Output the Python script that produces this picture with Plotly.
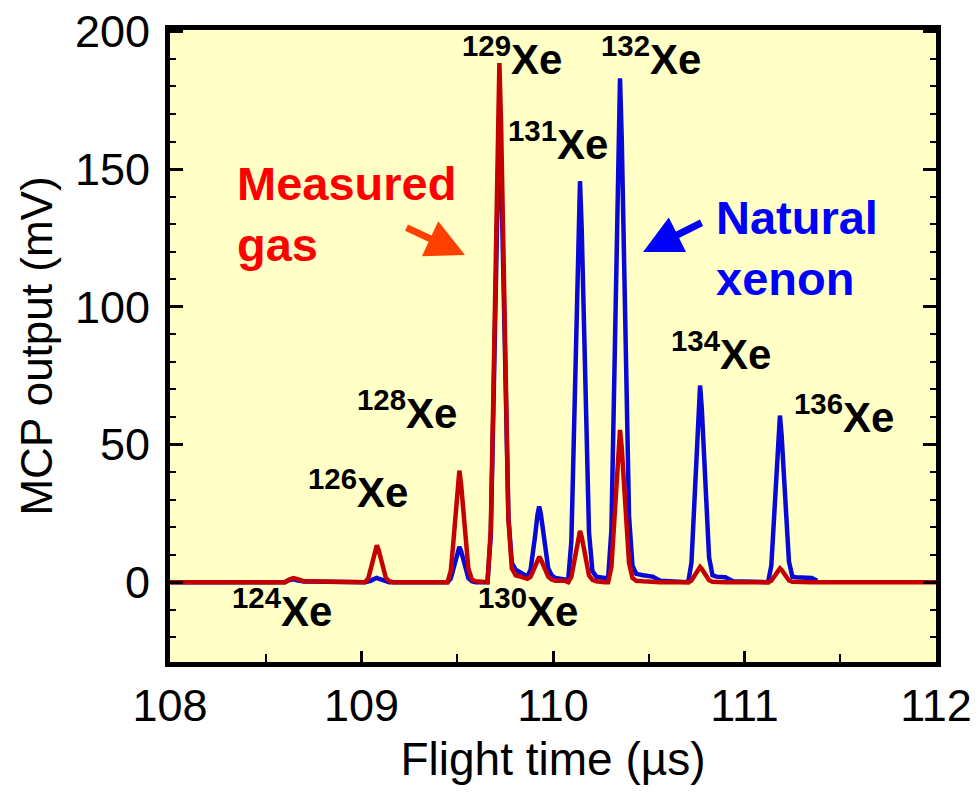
import plotly.graph_objects as go

# ---- data ----
flight_time = [
    108.00, 108.60, 108.625, 108.645, 108.67, 108.70,
    109.018, 109.035, 109.048, 109.059, 109.071, 109.08, 109.089, 109.103, 109.114, 109.127, 109.145, 109.165,
    109.449, 109.466, 109.479, 109.49, 109.502, 109.511, 109.52, 109.534, 109.545, 109.558, 109.576, 109.596,
    109.658, 109.675, 109.688, 109.699, 109.711, 109.72, 109.729, 109.743, 109.754, 109.767, 109.785, 109.805,
    109.83, 109.866, 109.883, 109.896, 109.907, 109.919, 109.928, 109.937, 109.951, 109.962, 109.975, 109.993,
    110.013, 110.06, 110.079, 110.096, 110.109, 110.12, 110.132, 110.141, 110.15, 110.164, 110.175, 110.188,
    110.206, 110.226, 110.27, 110.288, 110.305, 110.318, 110.329, 110.341, 110.35, 110.359, 110.373, 110.384,
    110.397, 110.415, 110.435, 110.47, 110.52, 110.56, 110.70, 110.706, 110.723, 110.736, 110.747, 110.759,
    110.768, 110.777, 110.791, 110.802, 110.815, 110.833, 110.853, 110.90, 110.94, 111.12, 111.123, 111.14,
    111.153, 111.164, 111.176, 111.185, 111.194, 111.208, 111.219, 111.232, 111.25, 111.27, 111.35, 111.38,
    112.00,
]

natural_xenon = [
    0, 0, 0.8, 1.0, 0.6, 0.2,
    0, 0.2, 0.5, 0.9, 1.3, 1.5, 1.3, 0.9, 0.5, 0.2, 0, 0,
    0, 1.3, 4.5, 7.7, 11.3, 12.8, 11.3, 7.7, 4.5, 1.5, 0.3, 0,
    0, 17, 60, 103, 151, 172, 151, 103, 62, 24, 7, 4.5,
    3.5, 2, 4.5, 10.5, 17, 24.5, 27.5, 24.5, 17, 10.5, 5, 2.5,
    1.5, 1, 0.5, 15, 51, 87, 128, 145.6, 128, 87, 51, 18,
    4, 2, 1.5, 1.5, 19, 64, 110, 161, 183, 161, 110, 64,
    24, 6, 3, 2.5, 2, 0.5, 0, 0, 7, 25, 43, 63,
    71.4, 63, 43, 25, 9, 2.5, 2, 1.8, 0.3, 0, 0, 6,
    21, 36, 53, 60.5, 53, 36, 21, 7.5, 2, 1.8, 1.5, 0.5,
    None,
]

measured_gas = [
    0, 0, 1.0, 1.5, 1.0, 0.3,
    0, 1.3, 4.7, 8.0, 11.8, 13.4, 11.8, 8.0, 4.7, 1.6, 0.3, 0,
    0, 4, 14, 24, 35.6, 40.5, 35.6, 24, 14, 5, 1, 0.3,
    0, 19, 66, 113, 166, 188.5, 166, 113, 66, 23, 5, 2.5,
    2, 1.2, 2, 4, 6, 8.2, 9.2, 8.2, 6, 4, 2, 1,
    0.5, 0.5, 0, 2, 6.5, 11, 16.4, 18.6, 16.4, 11, 6.5, 2.5,
    0.8, 0.3, 0, 0, 5.5, 19, 33, 48.7, 55.3, 48.7, 33, 19,
    7, 1.5, 0.5, 0.3, 0, 0, 0, 0, 0.6, 1.9, 3.3, 4.8,
    5.5, 4.8, 3.3, 1.9, 0.7, 0.1, 0, 0, 0, 0, 0, 0.5,
    1.7, 3, 4.4, 5, 4.4, 3, 1.7, 0.6, 0.1, 0, 0, 0,
    0,
]

isotope_labels = ["124", "126", "128", "129", "130", "131", "132", "134", "136"]
x_ticks = [108, 109, 110, 111, 112]
y_ticks = [0, 50, 100, 150, 200]

# ---- layout geometry (page pixels; body margin removed below) ----
W, H = 978, 799
L, R, T, B = 170, 936, 30, 662          # plot area on the page
XR = [108, 112]
YR = [-29, 200.5]


def px(xp, yp):
    """page pixel -> data coordinates"""
    xd = XR[0] + (xp - L) / (R - L) * (XR[1] - XR[0])
    yd = YR[1] - (yp - T) / (B - T) * (YR[1] - YR[0])
    return xd, yd


FONT = "Liberation Sans, Arial, sans-serif"
BLUE = "#0808d8"
RED = "#c40000"

fig = go.Figure()
fig.add_trace(go.Scatter(x=flight_time, y=natural_xenon, mode="lines",
                         line=dict(color=BLUE, width=4.5), name="Natural xenon",
                         connectgaps=False))
fig.add_trace(go.Scatter(x=flight_time, y=measured_gas, mode="lines",
                         line=dict(color=RED, width=4.5), name="Measured gas"))

# isotope label centres (page pixels)
label_pos = {
    "124": (282, 608), "126": (358, 489), "128": (407, 410), "129": (512, 56),
    "130": (528, 608), "131": (558, 141), "132": (651, 56), "134": (721, 351),
    "136": (844, 414),
}
annotations = []
for lab in isotope_labels:
    xd, yd = px(*label_pos[lab])
    annotations.append(dict(
        x=xd, y=yd, xref="x", yref="y", showarrow=False,
        text=f"<sup>{lab}</sup>Xe", xanchor="center", yanchor="middle",
        font=dict(family=FONT, size=42, color="black", weight="bold"),
    ))

# series labels
xd, yd = px(235, 155)
annotations.append(dict(x=xd, y=yd, xref="x", yref="y", showarrow=False,
                        text="Measured<br>gas", xanchor="left", yanchor="top", align="left",
                        font=dict(family=FONT, size=47, color="#ff0000", weight="bold")))
xd, yd = px(714, 189)
annotations.append(dict(x=xd, y=yd, xref="x", yref="y", showarrow=False,
                        text="Natural<br>xenon", xanchor="left", yanchor="top", align="left",
                        font=dict(family=FONT, size=47, color="#0000ff", weight="bold")))

# arrows
xd, yd = px(465, 255)
annotations.append(dict(x=xd, y=yd, xref="x", yref="y", text="", showarrow=True,
                        ax=-60, ay=-28, arrowhead=2, arrowsize=1.1, arrowwidth=7,
                        arrowcolor="#ff4000", standoff=0))
xd, yd = px(643, 252)
annotations.append(dict(x=xd, y=yd, xref="x", yref="y", text="", showarrow=True,
                        ax=60, ay=-30, arrowhead=2, arrowsize=1.1, arrowwidth=7,
                        arrowcolor="#0000ff", standoff=0))

fig.update_layout(
    width=W, height=H,
    margin=dict(l=L, r=W - R, t=T, b=H - B, autoexpand=False),
    paper_bgcolor="white", plot_bgcolor="#ffffc6",
    showlegend=False,
    annotations=annotations,
    font=dict(family=FONT, color="black"),
)
fig.update_xaxes(
    range=XR, tickvals=x_ticks, ticktext=[str(v) for v in x_ticks],
    ticks="inside", ticklen=11, tickwidth=3, tickcolor="black",
    minor=dict(dtick=0.5, tick0=108, ticks="inside", ticklen=8, tickwidth=2, tickcolor="black"),
    showline=True, linewidth=5, linecolor="black", mirror=True,
    showgrid=False, zeroline=False, automargin=False,
    tickfont=dict(family=FONT, size=45), ticklabeloverflow="allow",
    title=dict(text="Flight time (µs)", font=dict(family=FONT, size=46), standoff=14),
)
fig.update_yaxes(
    range=YR, tickvals=y_ticks, ticktext=[str(v) for v in y_ticks],
    ticks="inside", ticklen=13, tickwidth=3, tickcolor="black",
    minor=dict(dtick=10, tick0=0, ticks="inside", ticklen=6, tickwidth=2, tickcolor="black"),
    showline=True, linewidth=5, linecolor="black", mirror="allticks",
    showgrid=False, zeroline=False, automargin=False,
    tickfont=dict(family=FONT, size=45), ticklabelstandoff=6, ticklabeloverflow="allow",
    title=dict(text="MCP output (mV)", font=dict(family=FONT, size=44), standoff=10),
)

fig.write_html("out.html",
               config={"displayModeBar": False},
               post_script="document.body.style.margin='0';document.body.style.overflow='hidden';")
